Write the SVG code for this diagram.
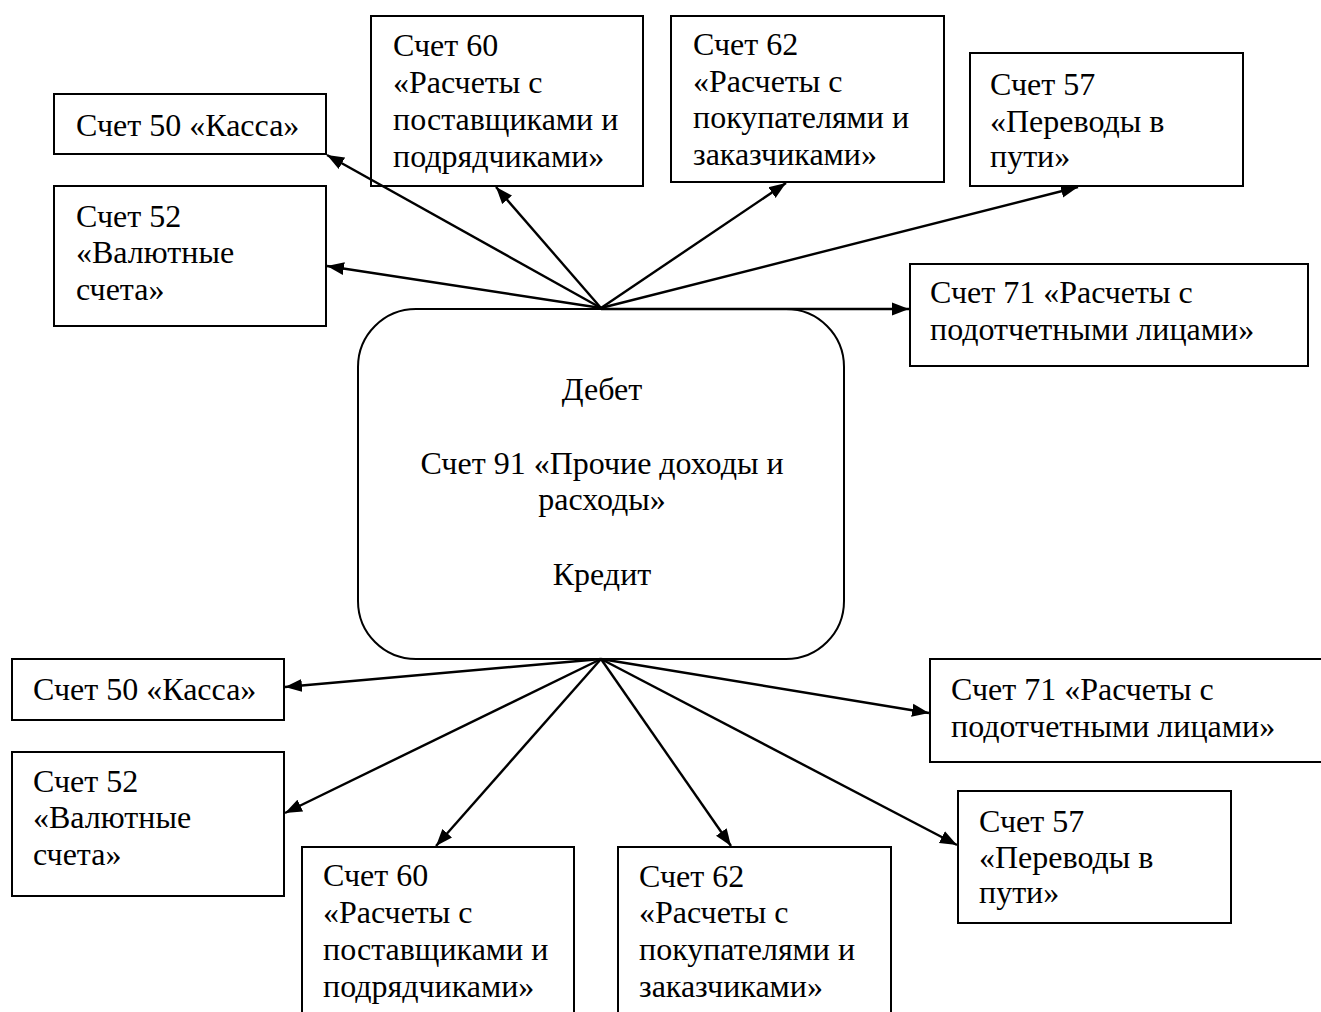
<svg xmlns="http://www.w3.org/2000/svg" width="1321" height="1012" viewBox="0 0 1321 1012">
<style>
.box{fill:#fff;stroke:#000;stroke-width:2}
.t{font-family:"Liberation Serif","Times New Roman",serif;font-size:32px;fill:#000}
.c{text-anchor:middle}
.ln{stroke:#000;stroke-width:2.4;fill:none;marker-end:url(#ah)}
</style>
<defs>
<marker id="ah" markerUnits="userSpaceOnUse" markerWidth="18" markerHeight="14" refX="17" refY="7" orient="auto">
<path d="M0,0.5 L17,7 L0,13.5 z" fill="#000"/>
</marker>
</defs>
<rect width="1321" height="1012" fill="#fff"/>
<g id="center">
<rect class="box" x="358" y="309" width="486" height="350" rx="58" ry="58"/>
<text class="t c" x="602" y="400">Дебет</text>
<text class="t c" x="602" y="474">Счет 91 «Прочие доходы и</text>
<text class="t c" x="602" y="510">расходы»</text>
<text class="t c" x="602" y="585">Кредит</text>
</g>
<g id="top50">
<rect class="box" x="54" y="94" width="272" height="60"/>
<text class="t" x="76" y="136">Счет 50 «Касса»</text>
</g>
<g id="top52">
<rect class="box" x="54" y="186" width="272" height="140"/>
<text class="t" x="76" y="227">Счет 52</text>
<text class="t" x="76" y="263">«Валютные</text>
<text class="t" x="76" y="300">счета»</text>
</g>
<g id="top60">
<rect class="box" x="371" y="16" width="272" height="170"/>
<text class="t" x="393" y="56">Счет 60</text>
<text class="t" x="393" y="93">«Расчеты с</text>
<text class="t" x="393" y="130">поставщиками и</text>
<text class="t" x="393" y="167">подрядчиками»</text>
</g>
<g id="top62">
<rect class="box" x="671" y="16" width="273" height="166"/>
<text class="t" x="693" y="55">Счет 62</text>
<text class="t" x="693" y="92">«Расчеты с</text>
<text class="t" x="693" y="128">покупателями и</text>
<text class="t" x="693" y="165">заказчиками»</text>
</g>
<g id="top57">
<rect class="box" x="970" y="53" width="273" height="133"/>
<text class="t" x="990" y="95">Счет 57</text>
<text class="t" x="990" y="132">«Переводы в</text>
<text class="t" x="990" y="167">пути»</text>
</g>
<g id="top71">
<rect class="box" x="910" y="264" width="398" height="102"/>
<text class="t" x="930" y="303">Счет 71 «Расчеты с</text>
<text class="t" x="930" y="340">подотчетными лицами»</text>
</g>
<g id="bot50">
<rect class="box" x="12" y="659" width="272" height="61"/>
<text class="t" x="33" y="700">Счет 50 «Касса»</text>
</g>
<g id="bot52">
<rect class="box" x="12" y="752" width="272" height="144"/>
<text class="t" x="33" y="792">Счет 52</text>
<text class="t" x="33" y="828">«Валютные</text>
<text class="t" x="33" y="865">счета»</text>
</g>
<g id="bot60">
<rect class="box" x="302" y="847" width="272" height="190"/>
<text class="t" x="323" y="886">Счет 60</text>
<text class="t" x="323" y="923">«Расчеты с</text>
<text class="t" x="323" y="960">поставщиками и</text>
<text class="t" x="323" y="997">подрядчиками»</text>
</g>
<g id="bot62">
<rect class="box" x="618" y="847" width="273" height="190"/>
<text class="t" x="639" y="887">Счет 62</text>
<text class="t" x="639" y="923">«Расчеты с</text>
<text class="t" x="639" y="960">покупателями и</text>
<text class="t" x="639" y="997">заказчиками»</text>
</g>
<g id="bot57">
<rect class="box" x="958" y="791" width="273" height="132"/>
<text class="t" x="979" y="832">Счет 57</text>
<text class="t" x="979" y="868">«Переводы в</text>
<text class="t" x="979" y="903">пути»</text>
</g>
<g id="bot71">
<rect class="box" x="930" y="659" width="400" height="103"/>
<text class="t" x="951" y="700">Счет 71 «Расчеты с</text>
<text class="t" x="951" y="737">подотчетными лицами»</text>
</g>
<g id="connectors">
<line class="ln" x1="601" y1="308" x2="327" y2="155"/>
<line class="ln" x1="601" y1="308" x2="327" y2="266"/>
<line class="ln" x1="601" y1="308" x2="496" y2="187"/>
<line class="ln" x1="601" y1="308" x2="786" y2="183"/>
<line class="ln" x1="601" y1="308" x2="1078" y2="187"/>
<line class="ln" x1="601" y1="309" x2="909" y2="309"/>
<line class="ln" x1="601" y1="659" x2="285" y2="687"/>
<line class="ln" x1="601" y1="659" x2="285" y2="813"/>
<line class="ln" x1="601" y1="659" x2="436" y2="846"/>
<line class="ln" x1="601" y1="659" x2="731" y2="846"/>
<line class="ln" x1="601" y1="659" x2="957" y2="845"/>
<line class="ln" x1="601" y1="659" x2="929" y2="713"/>
</g>
</svg>
